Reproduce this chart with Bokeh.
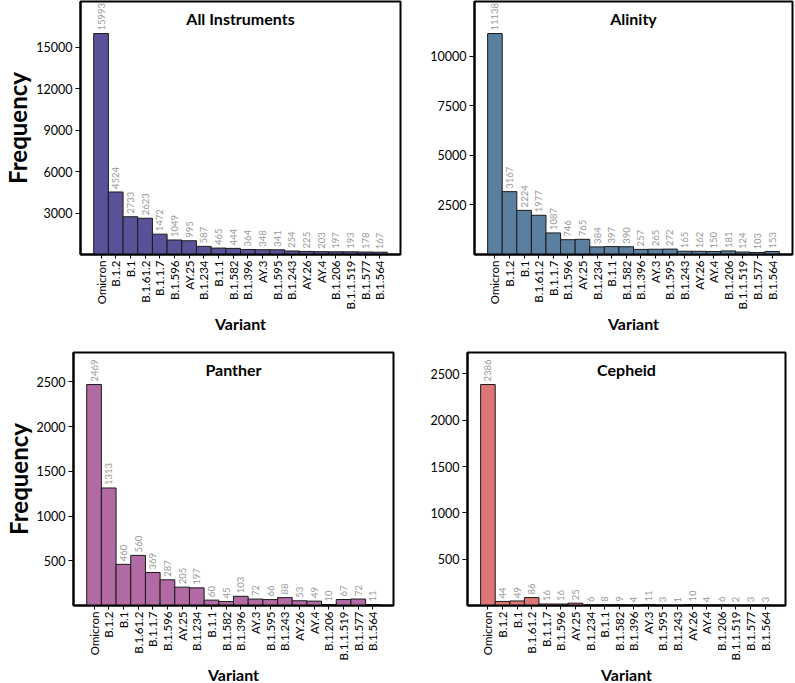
import math
from bokeh.plotting import figure
from bokeh.layouts import column, row
from bokeh.models import ColumnDataSource, FactorRange, Range1d, FixedTicker, Label
from bokeh.core.properties import value
from bokeh.embed import file_html
from bokeh.resources import INLINE

variants = ["Omicron", "B.1.2", "B.1", "B.1.61.2", "B.1.1.7", "B.1.596", "AY.25", "B.1.234",
            "B.1.1", "B.1.582", "B.1.396", "AY.3", "B.1.595", "B.1.243", "AY.26", "AY.4",
            "B.1.206", "B.1.1.519", "B.1.577", "B.1.564"]

all_instruments = [15993, 4524, 2733, 2623, 1472, 1049, 995, 587, 465, 444, 364, 348, 341, 254,
                   225, 203, 197, 193, 178, 167]
alinity = [11138, 3167, 2224, 1977, 1087, 746, 765, 384, 397, 390, 257, 265, 272, 165, 162, 150,
           181, 124, 103, 153]
panther = [2469, 1313, 460, 560, 369, 287, 205, 197, 60, 45, 103, 72, 66, 88, 53, 49, 10, 67, 72, 11]
cepheid = [2386, 44, 49, 86, 16, 16, 25, 6, 8, 9, 4, 11, 3, 1, 10, 4, 6, 2, 3, 3]

ticks_all = [3000, 6000, 9000, 12000, 15000]
ticks_alinity = [2500, 5000, 7500, 10000]
ticks_panther = [500, 1000, 1500, 2000, 2500]
ticks_cepheid = [500, 1000, 1500, 2000, 2500]

FONT = "Lato"


def make(title, vals, color, ticks, ylabel, fw, fh, bl, bt, br, bb):
    src = ColumnDataSource(dict(v=variants, c=vals, t=[str(x) for x in vals]))
    yend = max(vals) * 1.145
    p = figure(x_range=FactorRange(*variants, range_padding=0.9, range_padding_units="absolute"),
               y_range=Range1d(0, yend), frame_width=fw, frame_height=fh,
               output_backend="svg", toolbar_location=None,
               min_border_left=bl, min_border_top=bt, min_border_right=br, min_border_bottom=bb)
    p.vbar(x="v", top="c", width=1.0, source=src, fill_color=color, line_color="#1a1a1a",
           line_width=1)
    p.text(x="v", y="c", text="t", source=src, angle=math.pi / 2, text_align="left",
           text_baseline="middle", y_offset=-3, text_font=value(FONT),
           text_font_size="9.5px", text_color="#9a9a9a")
    p.add_layout(Label(x=len(variants) / 2, y=yend, text=title, text_align="center",
                       text_baseline="top", y_offset=-7, text_font=FONT,
                       text_font_style="bold", text_font_size="16px", text_color="black"))
    p.xgrid.visible = False
    p.ygrid.visible = False
    p.outline_line_color = "black"
    p.outline_line_width = 2
    p.outline_line_alpha = 1

    xa = p.xaxis[0]
    xa.major_label_orientation = math.pi / 2
    xa.major_label_text_font = FONT
    xa.major_label_text_font_size = "11.5px"
    xa.major_label_text_color = "#000000"
    xa.major_label_standoff = 2
    xa.major_tick_in = 0
    xa.major_tick_out = 4
    xa.major_tick_line_color = "#000000"
    xa.axis_line_width = 2
    xa.axis_line_color = "#000000"
    xa.axis_label = "Variant"
    xa.axis_label_text_font = FONT
    xa.axis_label_text_font_style = "bold"
    xa.axis_label_text_font_size = "16px"
    xa.axis_label_text_color = "#000000"
    xa.axis_label_standoff = 2

    ya = p.yaxis[0]
    ya.ticker = FixedTicker(ticks=ticks)
    ya.major_label_text_font = FONT
    ya.major_label_text_font_size = "12.5px"
    ya.major_label_text_color = "#000000"
    ya.major_label_standoff = 3
    ya.major_tick_in = 0
    ya.major_tick_out = 5
    ya.major_tick_line_color = "#000000"
    ya.minor_tick_line_color = None
    ya.axis_line_width = 2
    ya.axis_line_color = "#000000"
    if ylabel:
        ya.axis_label = "Frequency"
        ya.axis_label_text_font = FONT
        ya.axis_label_text_font_style = "bold"
        ya.axis_label_text_font_size = "24px"
        ya.axis_label_text_color = "#000000"
        ya.axis_label_standoff = 1
    return p


p1 = make("All Instruments", all_instruments, "#5a5298", ticks_all, True, 320, 253, 60, 1, 2, 60)
p2 = make("Alinity", alinity, "#5b7f9f", ticks_alinity, False, 318, 253, 72, 1, 2, 60)
p3 = make("Panther", panther, "#b26aa5", ticks_panther, True, 320, 253, 60, 16, 2, 60)
p4 = make("Cepheid", cepheid, "#df7676", ticks_cepheid, False, 318, 253, 72, 16, 2, 60)

layout = column(row(p1, p2), row(p3, p4))

with open("out.html", "w") as f:
    f.write(file_html(layout, INLINE))
